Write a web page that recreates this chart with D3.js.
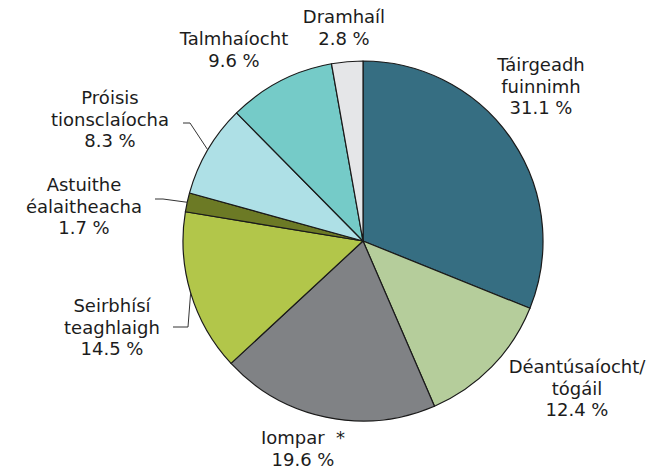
<!DOCTYPE html>
<html lang="ga">
<head>
    <meta charset="utf-8" />
    <title>Pie</title>
    <style>
      body { margin: 0; background: #fff; }
      text { font-family: "DejaVu Sans", Verdana, sans-serif; font-size: 18px; fill: #1c1c1c; }
    </style>
</head>
<body>
    <div id="pie_chart"></div>
    <script src="https://cdnjs.cloudflare.com/ajax/libs/d3/7.4.4/d3.min.js"></script>
    <script type="text/javascript">

    // data, clockwise from 12 o'clock
    var categories = ["Táirgeadh fuinnimh", "Déantúsaíocht/ tógáil", "Iompar *", "Seirbhísí teaghlaigh",
                      "Astuithe éalaitheacha", "Próisis tionsclaíocha", "Talmhaíocht", "Dramhaíl"]
    var values = [31.1, 12.4, 19.6, 14.5, 1.7, 8.3, 9.6, 2.8]
    var labelLines = [
        ["Táirgeadh", "fuinnimh", "31.1 %"],
        ["Déantúsaíocht/", "tógáil", "12.4 %"],
        ["Iompar  *", "19.6 %"],
        ["Seirbhísí", "teaghlaigh", "14.5 %"],
        ["Astuithe", "éalaitheacha", "1.7 %"],
        ["Próisis", "tionsclaíocha", "8.3 %"],
        ["Talmhaíocht", "9.6 %"],
        ["Dramhaíl", "2.8 %"]
    ]
    var colors = ["#366e82", "#b5cd9b", "#808285", "#b2c64a", "#6c7a25", "#aee0e6", "#75cbc8", "#e5e6e8"]

    // layout: first baseline of each label, and elbow of leader line (null = no line)
    var labelPos = [
        { x: 541, y: 71 }, { x: 577, y: 373 }, { x: 303, y: 444 }, { x: 112, y: 312 },
        { x: 84, y: 191 }, { x: 110, y: 104 }, { x: 234, y: 45 }, { x: 344, y: 23 }
    ]
    var leaders = [null, null, null,
        { x1: 173, x2: 188, y: 327 },
        { x1: 155, x2: 163, y: 199 },
        { x1: 183, x2: 190, y: 123 },
        null, null]

    var width = 662, height = 469
    var cx = 363, cy = 241, radius = 180

    var svg = d3.select('#pie_chart').append('svg')
        .attr('width', width)
        .attr('height', height)

    var g = svg.append('g')
        .attr('transform', 'translate(' + cx + ',' + cy + ')')

    var pie = d3.pie().sort(null).value(function (d) { return d; })
    var arcs = pie(values)
    var arc = d3.arc().innerRadius(0).outerRadius(radius)

    g.selectAll('path')
        .data(arcs)
        .enter()
        .append('path')
            .attr('d', arc)
            .attr('fill', function (d, i) { return colors[i]; })
            .attr('stroke', '#1a1a1a')
            .attr('stroke-width', 1.2)
            .attr('stroke-linejoin', 'round')

    // leader lines
    arcs.forEach(function (d, i) {
        var l = leaders[i]
        if (!l) return
        var a = (d.startAngle + d.endAngle) / 2
        var ex = cx + radius * Math.sin(a), ey = cy - radius * Math.cos(a)
        svg.append('polyline')
            .attr('points', l.x1 + ',' + l.y + ' ' + l.x2 + ',' + l.y + ' ' + ex + ',' + ey)
            .attr('fill', 'none')
            .attr('stroke', '#333')
            .attr('stroke-width', 1)
    })

    // labels
    var labels = svg.selectAll('text.lbl')
        .data(categories)
        .enter()
        .append('text')
            .attr('class', 'lbl')
            .attr('text-anchor', 'middle')
            .attr('x', function (d, i) { return labelPos[i].x; })
            .attr('y', function (d, i) { return labelPos[i].y; })

    labels.each(function (d, i) {
        var t = d3.select(this)
        labelLines[i].forEach(function (line, j) {
            t.append('tspan')
                .attr('x', labelPos[i].x)
                .attr('dy', j === 0 ? 0 : 21.5)
                .attr('xml:space', 'preserve')
                .style('white-space', 'pre')
                .text(line)
        })
    })

    </script>
</body>
</html>
